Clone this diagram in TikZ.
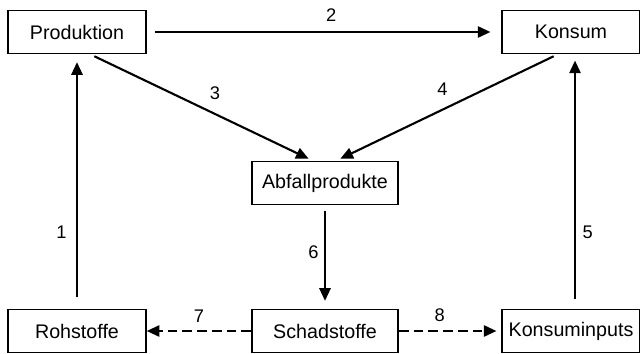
\documentclass[tikz,border=0pt]{standalone}
\usepackage{fontspec}
\setmainfont{Liberation Sans}
\usetikzlibrary{positioning, arrows.meta, calc}
\tikzset{node distance = 3.7cm and 6.2cm}
\tikzset{block/.style = {draw, line width=1.1pt, minimum height=1.07cm, minimum width=3.45cm, align=center, font=\fontsize{14}{16}\selectfont}}
\tikzset{wide/.style = {block, minimum width=3.65cm}}
\tikzset{link/.style = {font=\fontsize{13}{15}\selectfont, inner sep=1pt}}
\tikzset{flow/.style = {line width=1.5pt, -{Triangle[length=9pt, width=8pt]}}}
\tikzset{leak/.style = {flow, dash pattern=on 7pt off 3.5pt}}

\begin{document}
\begin{tikzpicture}[on grid]
			\useasboundingbox (-8.125,-0.55) rectangle (7.875,8.275);
			% Pollutants
			\node [wide] (schad) {Schadstoffe};
			% Raw materials
			\node [block, left= of schad] (roh) {Rohstoffe};
			\draw[leak] (schad) -- node[link, above=0.16cm] {7} (roh);
			% Consumption inputs
			\node [block, right=6.15cm of schad] (konin) {Konsuminputs};
			\draw[leak, shorten >=0.12cm] (schad) -- node[link, above=0.16cm, pos=0.4] {8} (konin);
			% Waste products
			\node [wide, above= of schad] (abfall) {Abfallprodukte};
			\draw[flow, shorten <=0.15cm, shorten >=0.2cm] (abfall) -- node[link, left=0.1cm, pos=0.45] {6} (schad);
			
			% Production
			\node [block, above=7.475cm of roh] (prod) {Produktion};
			\draw[flow, shorten <=0.3cm, shorten >=0.2cm] (roh) -- node[link, left=0.2cm, pos=0.3] {1} (prod);
			\draw[flow, shorten <=0.12cm, shorten >=0.12cm] ([xshift=0.325cm]prod.south) -- node[link, above=0.3cm, pos=0.56] {3} ([xshift=-0.3cm]abfall.north);
			% Consumption
			\node [block, above=7.475cm of konin] (konsum) {Konsum};
			\draw[flow, shorten <=0.2cm, shorten >=0.27cm] (prod) -- node[link, above=0.2cm, pos=0.52] {2} (konsum);
			\draw[flow, shorten <=0.12cm, shorten >=0.12cm] ([xshift=-0.325cm]konsum.south) -- node[link, above=0.28cm, pos=0.52] {4} ([xshift=0.275cm]abfall.north);
			\draw[flow, shorten <=0.25cm, shorten >=0.16cm] ([xshift=0.1cm]konin.north) -- node[link, right=0.13cm, pos=0.3] {5} ([xshift=0.1cm]konsum.south);
		\end{tikzpicture}
\end{document}
